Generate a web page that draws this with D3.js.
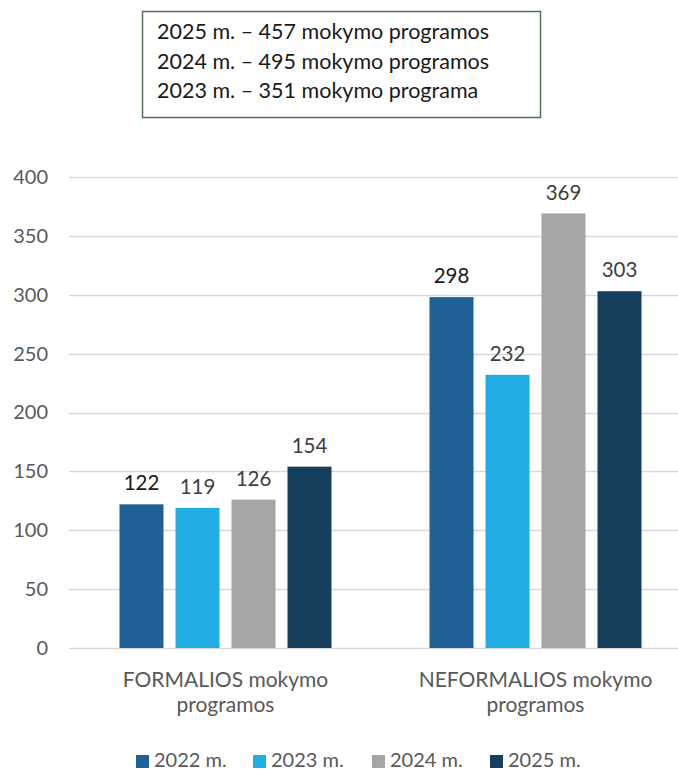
<!DOCTYPE html>
<html>
<head>
<meta charset="utf-8">
<script src="https://cdn.jsdelivr.net/npm/d3@7"></script>
<style>
  html, body { margin: 0; padding: 0; background: #fff; }
  svg { display: block; font-family: Lato, "Open Sans", sans-serif; }
</style>
</head>
<body>
<svg id="chart" width="678" height="770"></svg>
<script>
// --- Daten ---
const categories = [['FORMALIOS mokymo', 'programos'], ['NEFORMALIOS mokymo', 'programos']];
const seriesNames = ['2022 m.', '2023 m.', '2024 m.', '2025 m.'];
const values2022 = [122, 298];
const values2023 = [119, 232];
const values2024 = [126, 369];
const values2025 = [154, 303];
const yTicks = [0, 50, 100, 150, 200, 250, 300, 350, 400];
const boxLines = [
  '2025 m. – 457 mokymo programos',
  '2024 m. – 495 mokymo programos',
  '2023 m. – 351 mokymo programa'
];

const colors = ['#1F6096', '#20ADE3', '#A5A5A5', '#163F5E'];
const labelColors = ['#1a1a1a', '#404040', '#404040', '#404040'];
const allValues = [values2022, values2023, values2024, values2025];

const svg = d3.select('#chart');

// Skalen
const x0 = d3.scaleBand().domain(d3.range(categories.length)).range([70.5, 690.5]);
const x1 = d3.scaleBand().domain(d3.range(seriesNames.length))
  .range([49, x0.bandwidth() - 49]).paddingInner(12 / 56);
const y = d3.scaleLinear().domain([0, 400]).range([648, 177]);

// Gitterlinien
svg.append('g')
  .selectAll('line')
  .data(yTicks)
  .enter()
  .append('line')
  .attr('x1', 69).attr('x2', 678)
  .attr('y1', d => Math.round(y(d)) + 0.5)
  .attr('y2', d => Math.round(y(d)) + 0.5)
  .attr('stroke', '#D9D9D9')
  .attr('stroke-width', 1.3);

// Y-Achse
const yAxis = svg.append('g')
  .attr('transform', 'translate(48,0)')
  .call(d3.axisLeft(y).tickValues(yTicks).tickSize(0).tickPadding(0));
yAxis.select('.domain').remove();
yAxis.selectAll('text')
  .attr('fill', '#595959')
  .attr('font-size', '20px')
  .attr('font-family', 'Lato, sans-serif');

// Balken
const groups = svg.append('g')
  .selectAll('g')
  .data(categories)
  .enter()
  .append('g')
  .attr('transform', (d, i) => `translate(${x0(i)},0)`);

groups.selectAll('rect')
  .data((d, i) => allValues.map((vals, s) => ({ s, v: vals[i] })))
  .enter()
  .append('rect')
  .attr('x', d => x1(d.s))
  .attr('width', x1.bandwidth())
  .attr('y', d => y(d.v))
  .attr('height', d => y(0) - y(d.v))
  .attr('fill', d => colors[d.s]);

// Datenbeschriftungen
groups.selectAll('text.val')
  .data((d, i) => allValues.map((vals, s) => ({ s, v: vals[i] })))
  .enter()
  .append('text')
  .attr('class', 'val')
  .attr('x', d => x1(d.s) + x1.bandwidth() / 2)
  .attr('y', d => y(d.v) - 14)
  .attr('text-anchor', 'middle')
  .attr('font-size', '20.5px')
  .attr('fill', d => labelColors[d.s])
  .text(d => d.v);

// Kategorienbeschriftungen
groups.append('text')
  .attr('text-anchor', 'middle')
  .attr('font-size', '21px')
  .attr('fill', '#595959')
  .selectAll('tspan')
  .data(d => d)
  .enter()
  .append('tspan')
  .attr('x', x0.bandwidth() / 2)
  .attr('y', (d, i) => 687 + i * 25)
  .text(d => d);

// Legende
const legendX = [136, 253, 372, 490];
const legend = svg.append('g')
  .selectAll('g')
  .data(seriesNames)
  .enter()
  .append('g')
  .attr('transform', (d, i) => `translate(${legendX[i]},755)`);
legend.append('rect')
  .attr('width', 13).attr('height', 13)
  .attr('y', 0)
  .attr('fill', (d, i) => colors[i]);
legend.append('text')
  .attr('x', 18).attr('y', 12)
  .attr('font-size', '20px')
  .attr('fill', '#595959')
  .text(d => d);

// Textkasten oben
svg.append('rect')
  .attr('x', 142.5).attr('y', 11.5)
  .attr('width', 398).attr('height', 106)
  .attr('fill', '#fff')
  .attr('stroke', '#4E7356')
  .attr('stroke-width', 1.5);
svg.append('g')
  .selectAll('text')
  .data(boxLines)
  .enter()
  .append('text')
  .attr('x', 157)
  .attr('y', (d, i) => 39 + i * 29.5)
  .attr('font-size', '21.5px')
  .attr('fill', '#1a1a1a')
  .text(d => d);
</script>
</body>
</html>
